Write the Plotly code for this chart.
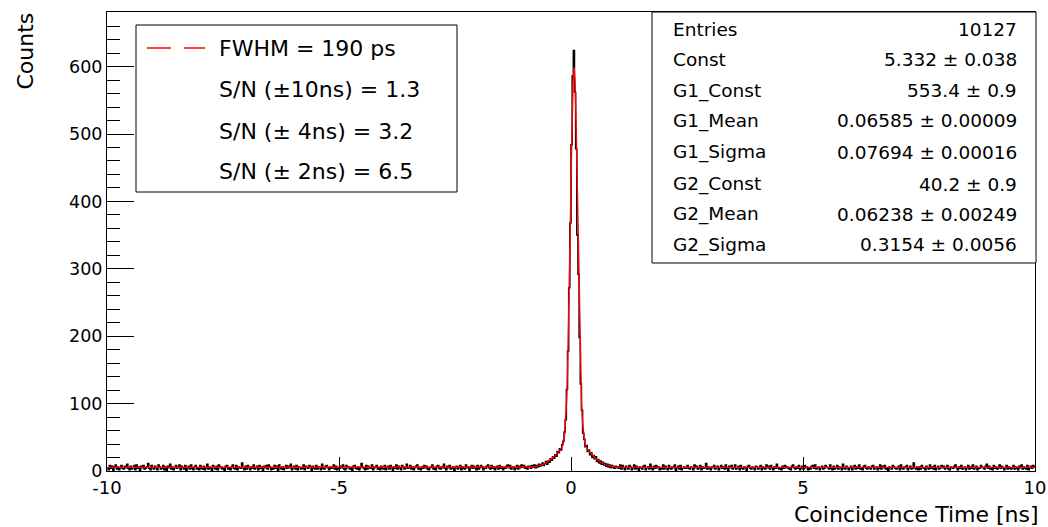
import plotly.graph_objects as go

# ---------------- data ----------------
x_lo, x_hi = -10.0, 10.0

# baseline counts left of the peak (bins from -10 up to about -0.9 ns)
counts_left = [
    5, 2, 8, 4, 7, 1, 6, 9, 3, 6, 2, 5, 8, 4, 3, 7, 5, 10, 4, 2,
    7, 3, 5, 8, 2, 9, 4, 6, 1, 7, 5, 8, 3, 4, 6, 11, 4, 2, 8, 5,
    3, 7, 5, 2, 9, 6, 3, 4, 8, 2, 6, 1, 7, 5, 10, 3, 6, 2, 5, 8,
    4, 6, 9, 2, 7, 5, 3, 8, 1, 5, 7, 3, 9, 4, 2, 6, 8, 3, 5, 2,
    8, 4, 3, 7, 2, 5, 10, 3, 6, 4, 1, 8, 5, 3, 7, 2, 9, 5, 6, 3,
    5, 1, 7, 8, 3, 5, 2, 6, 9, 4, 3, 8, 2, 6, 5, 4, 12, 5, 2, 7,
    3, 8, 5, 2, 6, 4, 9, 3, 5, 7, 2, 8, 4, 6, 1, 7, 5, 8, 3, 9,
    6, 2, 5, 3, 8, 4, 7, 1, 9, 5, 3, 6, 2, 5, 8, 4, 7, 5, 10, 2,
    5, 7, 3, 8, 2, 6, 5, 3, 4, 9, 2, 7, 5, 4, 8, 6, 1, 7, 4, 3,
    8, 3, 6, 5, 2, 10, 4, 3, 7, 8, 5, 2, 6, 4, 5, 9, 3, 7, 2, 5,
    4, 7, 5, 9, 3, 2, 8, 5, 6, 3, 5, 1, 7, 8, 4, 3, 6, 2, 5, 11,
    6, 4, 2, 8, 3, 7, 5, 4, 9, 2, 5, 6, 8, 3, 5, 2, 7, 4, 3, 8,
    2, 5, 7, 3, 8, 5, 1, 6, 4, 9, 3, 7, 5, 2, 8, 6, 3, 5, 10, 4,
    5, 8, 3, 6, 2, 5, 7, 9, 3, 4, 2, 6, 4, 8, 5, 7, 3, 2, 5, 6,
    9, 3, 5, 2, 7, 8, 4, 3, 6, 5, 10, 4, 2, 7, 5, 8, 3, 4, 6, 1,
    5, 7, 3, 5, 8, 2, 6, 4, 3, 9, 5, 6, 1, 5, 8, 4, 7, 5, 2, 8,
    3, 5, 8, 6, 2, 5, 4, 7, 9, 5, 3, 8, 4, 6, 2, 5, 7, 3, 8, 4,
    6, 2, 5, 4, 7, 9, 5, 8, 3, 5, 6, 2, 4, 8, 3, 7, 5, 9, 6, 8,
    4, 6, 3, 7,
]

# counts around the coincidence peak (about -0.9 ns to 1.0 ns)
counts_peak = [
    7, 4, 8, 6, 9, 5, 8, 6, 10, 7, 9, 12, 8, 11, 14, 10, 15, 13, 18, 16,
    21, 19, 24, 22, 29, 27, 33, 31, 39, 44, 58, 76, 121, 178, 272, 368,
    484, 586, 624, 562, 478, 350, 292, 198, 129, 90, 56, 47, 36, 38, 29, 31,
    24, 27, 20, 23, 18, 21, 14, 17, 12, 15, 10, 13, 9, 11, 7, 10, 6, 9,
    5, 8, 6, 4, 7, 5,
]

# baseline counts right of the peak (about 1.0 ns up to 10 ns)
counts_right = [
    6, 4, 9, 3, 8, 5, 2, 7, 5, 3, 8, 6, 2, 5, 9, 3, 7, 4, 1, 6,
    5, 3, 7, 8, 2, 5, 6, 3, 10, 4, 2, 7, 4, 8, 5, 6, 2, 5, 3, 9,
    3, 7, 5, 2, 8, 4, 3, 6, 5, 9, 1, 5, 7, 3, 8, 2, 5, 6, 4, 5,
    8, 4, 3, 6, 5, 2, 9, 5, 7, 3, 5, 8, 2, 6, 4, 5, 11, 3, 6, 4,
    2, 6, 5, 8, 3, 5, 7, 2, 5, 8, 4, 6, 3, 9, 4, 1, 7, 5, 8, 3,
    5, 9, 3, 5, 7, 2, 8, 4, 3, 6, 5, 1, 7, 8, 4, 3, 6, 5, 2, 7,
    6, 3, 5, 8, 2, 6, 4, 3, 9, 5, 7, 3, 8, 5, 2, 6, 4, 10, 5, 3,
    5, 2, 7, 4, 8, 5, 6, 4, 3, 2, 7, 9, 5, 3, 6, 4, 8, 2, 5, 7,
    3, 8, 5, 6, 2, 5, 3, 7, 8, 4, 9, 3, 5, 6, 2, 5, 7, 3, 4, 8,
    6, 5, 3, 9, 4, 2, 7, 3, 5, 8, 3, 6, 5, 2, 10, 4, 3, 7, 5, 2,
    5, 7, 2, 5, 8, 3, 6, 4, 9, 3, 5, 2, 7, 8, 4, 3, 6, 5, 3, 7,
    8, 3, 5, 6, 2, 4, 9, 3, 7, 5, 8, 3, 5, 1, 6, 5, 3, 8, 6, 4,
    3, 5, 7, 2, 9, 4, 3, 6, 5, 8, 2, 5, 7, 3, 4, 12, 5, 3, 6, 2,
    6, 3, 8, 5, 4, 2, 7, 5, 3, 9, 4, 6, 3, 8, 2, 5, 7, 3, 5, 8,
    5, 7, 3, 5, 8, 3, 2, 6, 5, 4, 7, 9, 5, 2, 6, 4, 8, 3, 5, 6,
    2, 5, 8, 3, 6, 4, 9, 3, 5, 7, 2, 5, 4, 8, 6, 5, 3, 7, 10, 4,
    7, 3, 5, 2, 8, 4, 6, 3, 5, 9, 4, 7, 5, 2, 5, 8, 3, 6, 4, 3,
    5, 8, 3, 6, 4, 2, 7, 5, 9, 3, 6, 4, 3, 8, 2, 5, 7, 4, 8, 6,
]

# red fit curve, sampled (x in ns, y in counts)
fit_x = [-10, -1.434, -1.134, -0.934, -0.834, -0.734, -0.634, -0.534, -0.434,
         -0.384, -0.334, -0.284, -0.234, -0.214, -0.194, -0.174, -0.154,
         -0.134, -0.114, -0.094, -0.074, -0.054, -0.034, -0.014, 0.006,
         0.026, 0.046, 0.066, 0.086, 0.106, 0.126, 0.146, 0.166, 0.186,
         0.206, 0.226, 0.246, 0.266, 0.286, 0.306, 0.326, 0.346, 0.366,
         0.416, 0.466, 0.516, 0.566, 0.666, 0.766, 0.866, 0.966, 1.066,
         1.266, 1.566, 10]
fit_y = [5.33, 5.33, 5.36, 5.6, 6.0, 6.9, 8.7, 11.9, 16.7,
         19.8, 23.3, 27.0, 31.2, 33.1, 35.7, 39.7, 46.1,
         57.1, 75.4, 104.3, 147.4, 206.7, 281.3, 366.5, 453.1,
         528.7, 580.4, 598.9, 580.4, 528.7, 453.1, 366.5, 281.3, 206.7,
         147.4, 104.3, 75.4, 57.1, 46.1, 39.7, 35.7, 33.1, 31.2,
         27.0, 23.3, 19.8, 16.7, 11.9, 8.7, 6.9, 6.0, 5.6,
         5.36, 5.33, 5.33]

legend_labels = ["FWHM = 190 ps", "S/N (\u00b110ns) = 1.3",
                 "S/N (\u00b1 4ns) = 3.2", "S/N (\u00b1 2ns) = 6.5"]

stat_names = ["Entries", "Const", "G1_Const", "G1_Mean", "G1_Sigma",
              "G2_Const", "G2_Mean", "G2_Sigma"]
stat_values = ["10127", "5.332 \u00b1 0.038", "553.4 \u00b1 0.9",
               "0.06585 \u00b1 0.00009", "0.07694 \u00b1 0.00016",
               "40.2 \u00b1 0.9", "0.06238 \u00b1 0.00249",
               "0.3154 \u00b1 0.0056"]

x_tickvals = [-10, -5, 0, 5, 10]
y_tickvals = [0, 100, 200, 300, 400, 500, 600]

# ---------------- geometry helpers (pixels -> paper) ----------------
W, H = 1048, 527
PL, PR, PT, PB = 107, 1035, 12, 471


def px_x(p):
    return (p - PL) / (PR - PL)


def px_y(p):
    return (PB - p) / (PB - PT)


FONT = "DejaVu Sans"

# ---------------- histogram ----------------
counts = counts_left + counts_peak + counts_right
n = len(counts)
bw = (x_hi - x_lo) / n
edges = [x_lo + i * bw for i in range(n + 1)]
hist_y = counts + [counts[-1]]

fig = go.Figure()
fig.add_trace(go.Scatter(x=edges, y=hist_y, mode="lines", line_shape="hv",
                         line=dict(color="black", width=1.5),
                         hoverinfo="skip", showlegend=False))
fig.add_trace(go.Scatter(x=fit_x, y=fit_y, mode="lines",
                         line=dict(color="#ff0000", width=1.4),
                         hoverinfo="skip", showlegend=False))

shapes = []
annotations = []

# legend box
shapes.append(dict(type="rect", xref="paper", yref="paper",
                   x0=px_x(136), x1=px_x(457), y0=px_y(192), y1=px_y(25),
                   line=dict(color="black", width=1), fillcolor="white",
                   layer="above"))
shapes.append(dict(type="line", xref="paper", yref="paper",
                   x0=px_x(147), x1=px_x(205), y0=px_y(48), y1=px_y(48),
                   line=dict(color="#ff0000", width=1.3, dash="24px,13px"),
                   layer="above"))
leg_rows = [48, 90, 131, 171]
for lab, yy in zip(legend_labels, leg_rows):
    annotations.append(dict(text=lab, xref="paper", yref="paper",
                            x=px_x(217), y=px_y(yy), xanchor="left",
                            yanchor="middle", showarrow=False,
                            font=dict(family=FONT, size=22, color="black")))

# stats box
shapes.append(dict(type="rect", xref="paper", yref="paper",
                   x0=px_x(652), x1=px_x(1036), y0=px_y(263), y1=px_y(12),
                   line=dict(color="black", width=1), fillcolor="white",
                   layer="above"))
stat_rows = [30, 60, 90.5, 121, 152.5, 184, 214, 244.5]
for nm, val, yy in zip(stat_names, stat_values, stat_rows):
    annotations.append(dict(text=nm, xref="paper", yref="paper",
                            x=px_x(671), y=px_y(yy), xanchor="left",
                            yanchor="middle", showarrow=False,
                            font=dict(family=FONT, size=18.5, color="black")))
    annotations.append(dict(text=val, xref="paper", yref="paper",
                            x=px_x(1019), y=px_y(yy), xanchor="right",
                            yanchor="middle", showarrow=False,
                            font=dict(family=FONT, size=18.5, color="black")))

# axis titles
annotations.append(dict(text="Counts", xref="paper", yref="paper",
                        x=px_x(25), y=px_y(11), xanchor="center",
                        yanchor="top", textangle=-90, showarrow=False,
                        font=dict(family=FONT, size=22, color="black")))
annotations.append(dict(text="Coincidence Time [ns]", xref="paper",
                        yref="paper", x=px_x(1041), y=px_y(514),
                        xanchor="right", yanchor="middle", showarrow=False,
                        font=dict(family=FONT, size=22, color="black")))

fig.update_layout(
    width=W, height=H,
    margin=dict(l=PL, r=W - PR, t=PT, b=H - PB, pad=0, autoexpand=False),
    paper_bgcolor="white", plot_bgcolor="white",
    showlegend=False,
    shapes=shapes, annotations=annotations,
    xaxis=dict(range=[x_lo, x_hi], tickmode="array", tickvals=x_tickvals,
               ticktext=[str(v) for v in x_tickvals], automargin=False,
               ticks="inside", ticklen=14, tickwidth=1, tickcolor="black",
               showline=True, linecolor="black", linewidth=1, mirror=True,
               showgrid=False, zeroline=False,
               tickfont=dict(family=FONT, size=18, color="black")),
    yaxis=dict(range=[0, 681], tickmode="array", tickvals=y_tickvals,
               automargin=False,
               ticks="inside", ticklen=27, tickwidth=1, tickcolor="black",
               minor=dict(dtick=20, tick0=0, ticks="inside", ticklen=13,
                          tickcolor="black", tickwidth=1, showgrid=False),
               showline=True, linecolor="black", linewidth=1, mirror=True,
               showgrid=False, zeroline=False,
               tickfont=dict(family=FONT, size=17.5, color="black")),
)

fig.write_html("out.html")
